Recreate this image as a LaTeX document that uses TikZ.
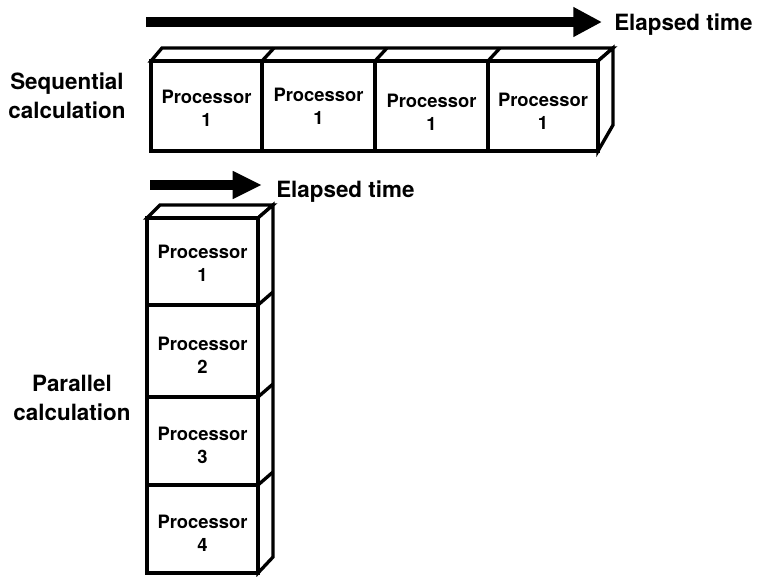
\documentclass[tikz,border=0pt]{standalone}
\usepackage{fontspec}
\setmainfont{TeX Gyre Heros}
\usetikzlibrary{arrows.meta,calc}
\tikzset{
  face/.style={draw=black,line width=2.5pt,fill=white,line join=miter},
  frontbox/.style={draw=black,line width=2.5pt,fill=white,rectangle,inner sep=0pt,outer sep=0pt},
  ptext/.style={align=center,font=\bfseries\fontsize{13.8}{17.3}\selectfont,inner sep=0pt},
  lab/.style={align=center,font=\bfseries\fontsize{16.8}{21.8}\selectfont,inner sep=0pt},
  timearrow/.style={line width=7.5pt},
}
\begin{document}
\begin{tikzpicture}[x=0.75pt,y=-0.75pt]
\useasboundingbox (0,0) rectangle (762,576);
% ---------- top (sequential) ----------
\coordinate (a1s) at (146,22);
\coordinate (a1e) at (602,22);
\draw[timearrow,-{Triangle[length=21.5pt,width=21pt]}] (a1s) -- (a1e);
\node[lab,anchor=base west] (t1) at (614,30) {Elapsed time};
\node[lab] (seq) at (67,96) {Sequential\\calculation};
% top face and right face
\draw[face] (151,61) -- (162,48) -- (613,48) -- (598,61) -- cycle;
\draw[face] (598,61) -- (613,48) -- (613,125) -- (598,151) -- cycle;
\draw[line width=2.5pt] (262,61) -- (274,48) (375,61) -- (387,48) (488,61) -- (500,48);
% front boxes
\node[frontbox,minimum width=111*0.75pt,minimum height=90*0.75pt] (s1) at (206.5,106) {};
\node[frontbox,minimum width=113*0.75pt,minimum height=90*0.75pt] (s2) at (318.5,106) {};
\node[frontbox,minimum width=113*0.75pt,minimum height=90*0.75pt] (s3) at (431.5,106) {};
\node[frontbox,minimum width=110*0.75pt,minimum height=90*0.75pt] (s4) at (543,106) {};
\node[ptext] (s1t) at ($(s1)+(0,2)$) {Processor\\1};
\node[ptext] (s2t) at ($(s2)+(0,0)$) {Processor\\1};
\node[ptext] (s3t) at ($(s3)+(0,6)$) {Processor\\1};
\node[ptext] (s4t) at ($(s4)+(0,5)$) {Processor\\1};
% ---------- bottom (parallel) ----------
\coordinate (a2s) at (150,185);
\coordinate (a2e) at (262,185);
\draw[timearrow,-{Triangle[length=22pt,width=19.5pt]}] (a2s) -- (a2e);
\node[lab,anchor=base west] (t2) at (276,197) {Elapsed time};
\node[lab] (par) at (72,398) {Parallel\\calculation};
\draw[face] (147,218) -- (160,205) -- (273,205) -- (258,218) -- cycle;
\draw[face] (258,218) -- (273,205) -- (273,557) -- (258,573) -- cycle;
\draw[line width=2.5pt] (258,305) -- (273,292) (258,397) -- (273,384) (258,485) -- (273,472);
\node[frontbox,minimum width=111*0.75pt,minimum height=87*0.75pt] (p1) at (202.5,261.5) {};
\node[frontbox,minimum width=111*0.75pt,minimum height=92*0.75pt] (p2) at (202.5,351) {};
\node[frontbox,minimum width=111*0.75pt,minimum height=88*0.75pt] (p3) at (202.5,441) {};
\node[frontbox,minimum width=111*0.75pt,minimum height=88*0.75pt] (p4) at (202.5,529) {};
\node[ptext] (p1t) at ($(p1)+(0,2)$) {Processor\\1};
\node[ptext] (p2t) at ($(p2)+(0,4)$) {Processor\\2};
\node[ptext] (p3t) at ($(p3)+(0,4)$) {Processor\\3};
\node[ptext] (p4t) at ($(p4)+(0,4)$) {Processor\\4};
\end{tikzpicture}
\end{document}
